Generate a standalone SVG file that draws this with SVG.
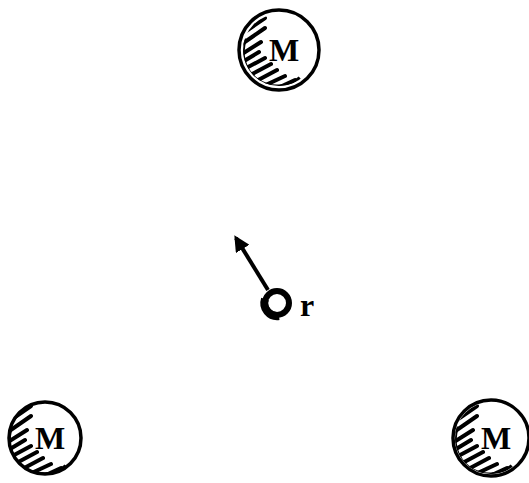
<svg xmlns="http://www.w3.org/2000/svg" width="529" height="483" viewBox="0 0 529 483">
<style>
.ring{fill:#fff;stroke:#000;stroke-width:3.5}
.hatch{stroke:#000;stroke-width:4;stroke-linecap:round;fill:none}
.lbl{font-family:"Liberation Serif",serif;font-weight:bold;font-size:32px;fill:#000}
.conn{stroke:#000;stroke-width:4;fill:none}
</style>
<defs>
<clipPath id="cA"><circle cx="0" cy="0" r="36"/></clipPath>
<g id="hat">
<g clip-path="url(#cA)">
<path class="hatch" d="M-40 -14 L-14 -32 M-40 -4 L-14 -22 M-40 6 L-18 -8 M-40 14 L-20 2 M-40 22 L-14 8 M-38 30 L-8 14 M-32 36 L-2 20 M-24 40 L6 26 M-14 44 L16 30 M-4 46 L24 34"/>
<path d="M-35 -12 A36 36 0 0 0 22 29" stroke="#000" stroke-width="7" fill="none"/>
</g>
</g>
<marker id="ah" viewBox="0 0 10 10" refX="8" refY="5" markerWidth="4" markerHeight="4" orient="auto">
<path d="M0 0 L10 5 L0 10 Z" fill="#000"/>
</marker>
</defs>
<g id="mass-top" transform="translate(279,50)">
<circle class="ring" r="40"/>
<use href="#hat"/>
<text class="lbl" x="5" y="11" text-anchor="middle">M</text>
</g>
<g id="mass-left" transform="translate(45,438)">
<circle class="ring" r="36"/>
<use href="#hat"/>
<text class="lbl" x="5" y="11" text-anchor="middle">M</text>
</g>
<g id="mass-right" transform="translate(491,438)">
<circle class="ring" r="38"/>
<use href="#hat"/>
<text class="lbl" x="5" y="11" text-anchor="middle">M</text>
</g>
<g id="connectors">
<path class="conn" d="M268 290 L236 238" marker-end="url(#ah)"/>
</g>
<g id="particle">
<circle cx="277" cy="303" r="12" fill="#fff" stroke="#000" stroke-width="6"/>
<path d="M265 299 A13 13 0 0 0 279 316" stroke="#000" stroke-width="8" fill="none"/>
<text x="300" y="316" font-family="Liberation Serif, serif" font-weight="bold" font-size="32" fill="#000">r</text>
</g>
</svg>
